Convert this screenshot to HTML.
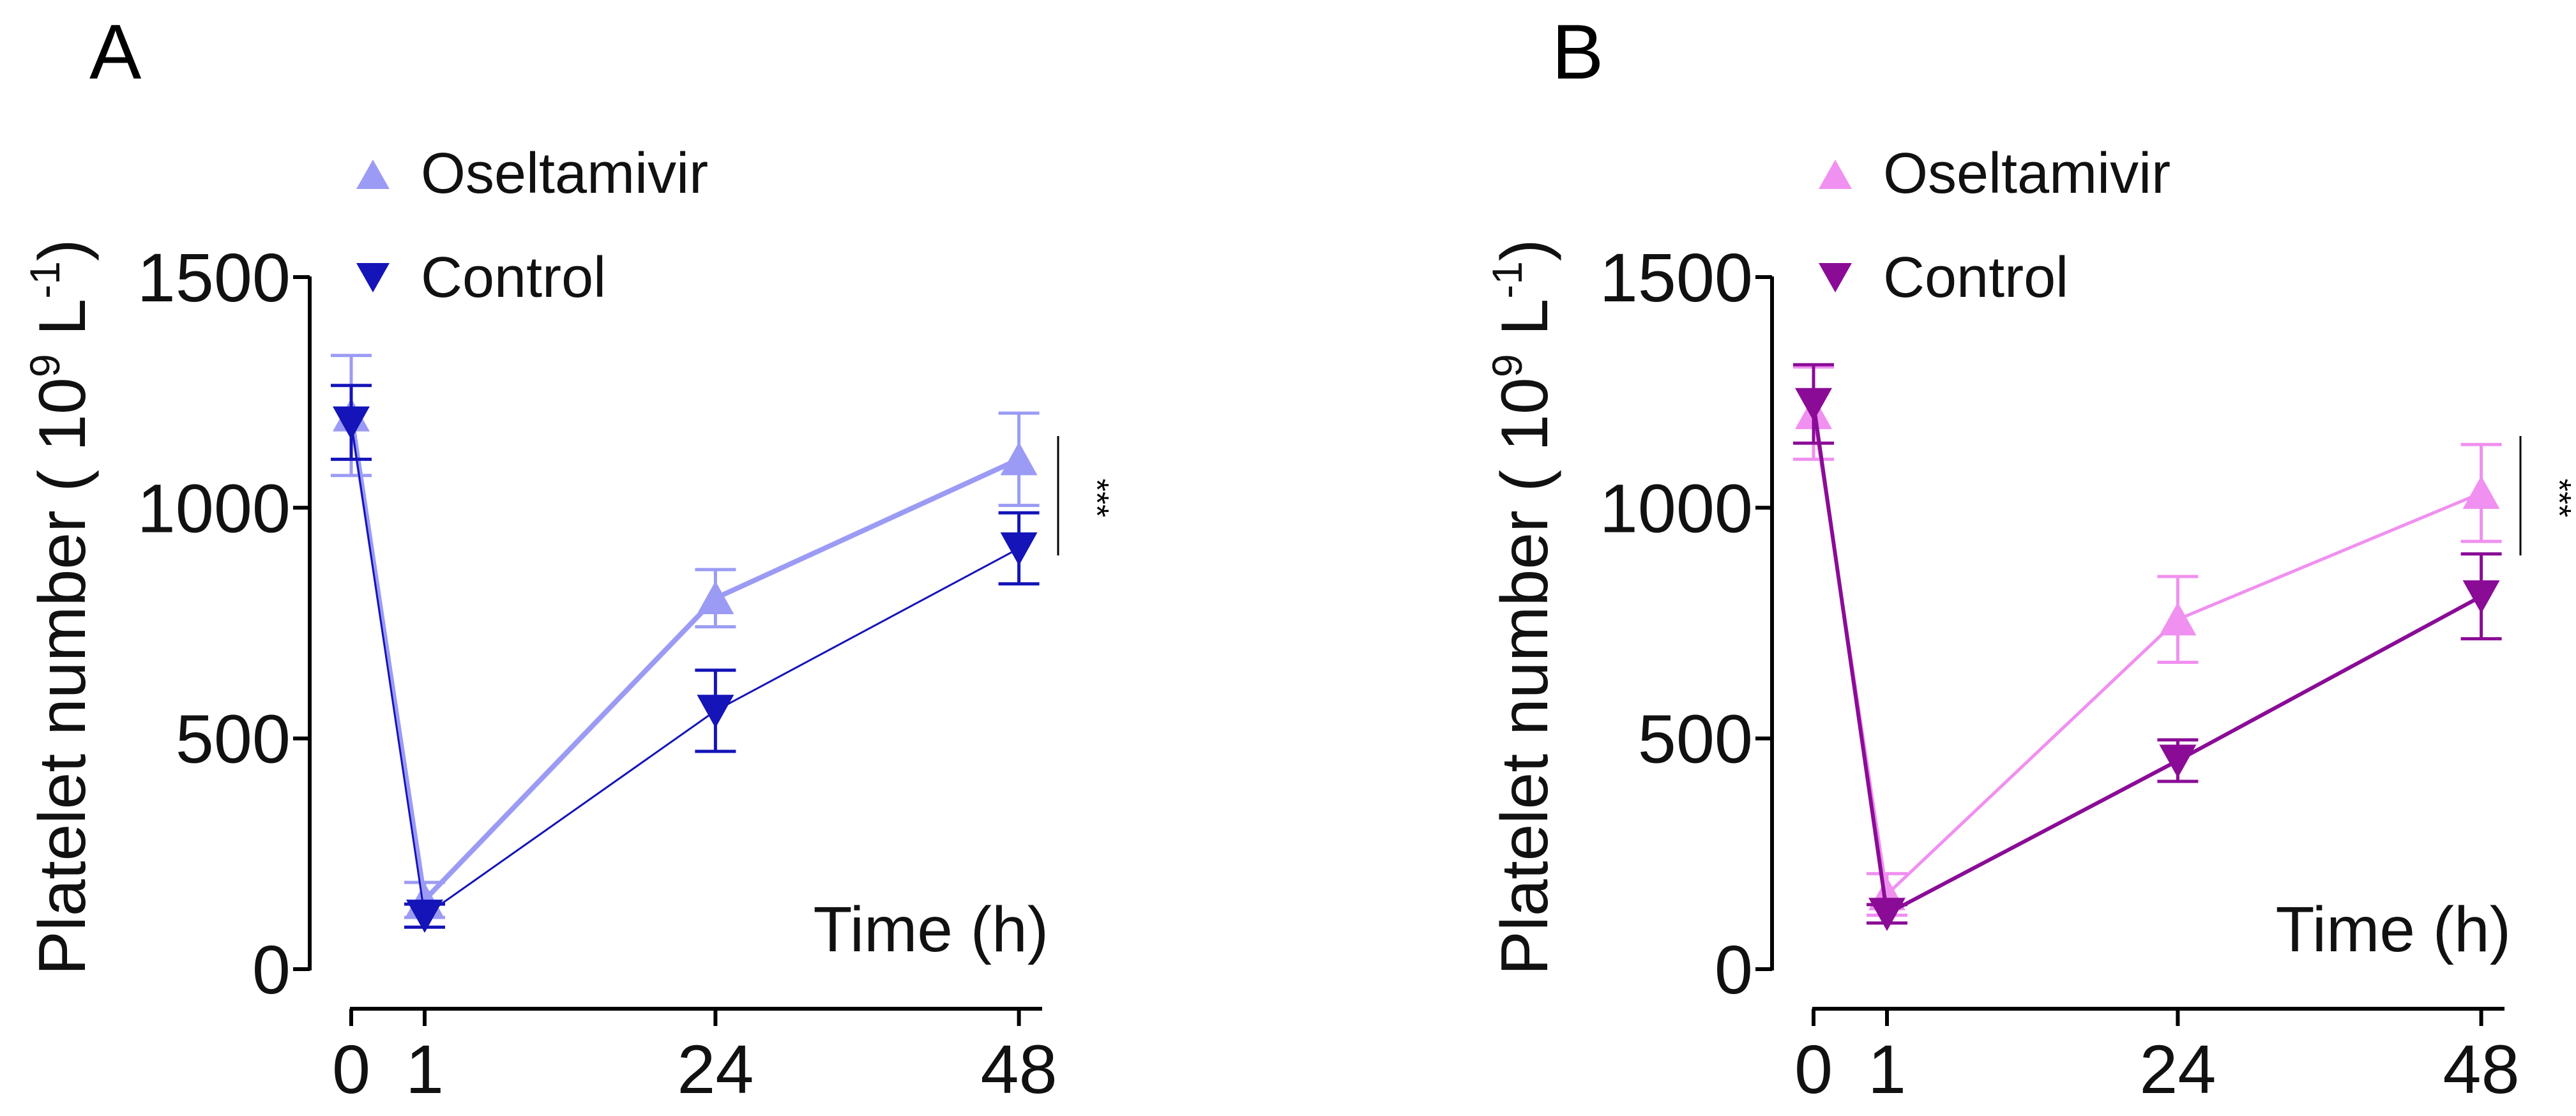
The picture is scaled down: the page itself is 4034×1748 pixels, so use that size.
<!DOCTYPE html>
<html><head><meta charset="utf-8"><style>
html,body{margin:0;padding:0;background:#fff;}
svg{display:block;font-family:"Liberation Sans",Arial,sans-serif;}
</style></head><body>
<svg id="fig" width="4034" height="1748" viewBox="0 0 4034 1748" xmlns="http://www.w3.org/2000/svg"></svg>
<script>
const timePoints = [0, 1, 24, 48];
const yTicks = [0, 500, 1000, 1500];
const aOselMean = [1200, 150, 804, 1105];
const aOselErr = [130, 38, 62, 100];
const aCtrlMean = [1185, 116, 560, 912];
const aCtrlErr = [80, 25, 88, 77];
const bOselMean = [1205, 162, 758, 1032];
const bOselErr = [100, 45, 93, 105];
const bCtrlMean = [1225, 120, 452, 808];
const bCtrlErr = [85, 20, 45, 92];

const NS = "http://www.w3.org/2000/svg";
const svg = document.getElementById('fig');
function mk(tag, attrs, parent) {
  const e = document.createElementNS(NS, tag);
  for (const k in attrs) e.setAttribute(k, attrs[k]);
  (parent || svg).appendChild(e);
  return e;
}

function panel(off, letter, osel, oselErr, ctrl, ctrlErr, cO, cC, wO, wC, id) {
  const g = mk('g', {});
  
  
  const yAxisX = 485 + off;
  const y = v => 1518 - v * 0.7227;
  const x = t => t <= 1 ? 550 + off + t * 115 : 665 + off + (t - 1) * 19.8;

  const lab = mk('text', {x: 140 + off, y: 123, 'font-size': 122}, g);
  lab.textContent = letter;
  
  

  // y axis
  const ya = mk('line', {x1: yAxisX, y1: 433, x2: yAxisX, y2: 1520, stroke: '#000', 'stroke-width': 6}, g);
  
  
  yTicks.forEach(v => {
    mk('line', {x1: yAxisX - 26, y1: y(v), x2: yAxisX, y2: y(v), stroke: '#000', 'stroke-width': 6}, g);
    const t = mk('text', {x: yAxisX - 30, y: y(v) + 38, 'font-size': 108, 'text-anchor': 'end', fill: '#111'}, g);
    t.textContent = v;
    
    
  });
  const yl = mk('text', {transform: `translate(${off + 133},951) rotate(-90)`, 'font-size': 104, 'text-anchor': 'middle', fill: '#111'}, g);
  yl.innerHTML = 'Platelet number ( 10<tspan dy="-40" font-size="66">9</tspan><tspan dy="40"> L</tspan><tspan dy="-40" font-size="66">-1</tspan><tspan dy="40">)</tspan>';
  
  

  // x axis
  const xa = mk('line', {x1: 548 + off, y1: 1580, x2: 1632 + off, y2: 1580, stroke: '#000', 'stroke-width': 6}, g);
  
  
  timePoints.forEach(t => {
    mk('line', {x1: x(t), y1: 1580, x2: x(t), y2: 1607, stroke: '#000', 'stroke-width': 6}, g);
    const tl = mk('text', {x: x(t), y: 1712, 'font-size': 108, 'text-anchor': 'middle', fill: '#111'}, g);
    tl.textContent = t;
    
    
  });
  const xt = mk('text', {x: 1642 + off, y: 1490, 'font-size': 100, 'text-anchor': 'end', fill: '#111'}, g);
  xt.textContent = 'Time (h)';
  
  

  function series(means, errs, col, w, up, name) {
    const sg = mk('g', {}, g);
    
    
    const pts = means.map((m, i) => x(timePoints[i]) + ',' + y(m)).join(' ');
    mk('polyline', {points: pts, fill: 'none', stroke: col, 'stroke-width': w}, sg);
    means.forEach((m, i) => {
      const cx = x(timePoints[i]);
      const e = mk('path', {d: `M${cx},${y(m + errs[i])}V${y(m - errs[i])}M${cx - 32},${y(m + errs[i])}H${cx + 32}M${cx - 32},${y(m - errs[i])}H${cx + 32}`, stroke: col, 'stroke-width': 5, fill: 'none'}, sg);
      
      
      const cy = y(m);
      const d = up ? `M${cx - 29},${cy + 25}L${cx + 29},${cy + 25}L${cx},${cy - 27}Z` : `M${cx - 29},${cy - 25}L${cx + 29},${cy - 25}L${cx},${cy + 27}Z`;
      const mpt = mk('path', {d: d, fill: col}, sg);
      
      
    });
  }
  series(osel, oselErr, cO, wO, true, 'oseltamivir');
  series(ctrl, ctrlErr, cC, wC, false, 'control');

  // significance
  const sb = mk('line', {x1: 1657 + off, y1: 683, x2: 1657 + off, y2: 870, stroke: '#000', 'stroke-width': 3}, g);
  
  
  const st = mk('text', {transform: `translate(${1700 + off},780) rotate(90)`, 'font-size': 52, 'text-anchor': 'middle', fill: '#000'}, g);
  st.textContent = '***';
  
  

  // legend
  const l1 = mk('g', {}, g);
  
  
  mk('path', {d: `M${558 + off},${296}L${610 + off},${296}L${584 + off},${250}Z`, fill: cO}, l1);
  mk('text', {x: 659 + off, y: 302, 'font-size': 90, fill: '#111'}, l1).textContent = 'Oseltamivir';
  const l2 = mk('g', {}, g);
  
  
  mk('path', {d: `M${558 + off},${412}L${610 + off},${412}L${584 + off},${458}Z`, fill: cC}, l2);
  mk('text', {x: 659 + off, y: 465, 'font-size': 90, fill: '#111'}, l2).textContent = 'Control';
}

panel(0, 'A', aOselMean, aOselErr, aCtrlMean, aCtrlErr, '#9b9bf5', '#1414b8', 8, 3, 'a');
panel(2290, 'B', bOselMean, bOselErr, bCtrlMean, bCtrlErr, '#f090f0', '#8a0c96', 5, 6, 'b');
</script>
</body></html>
